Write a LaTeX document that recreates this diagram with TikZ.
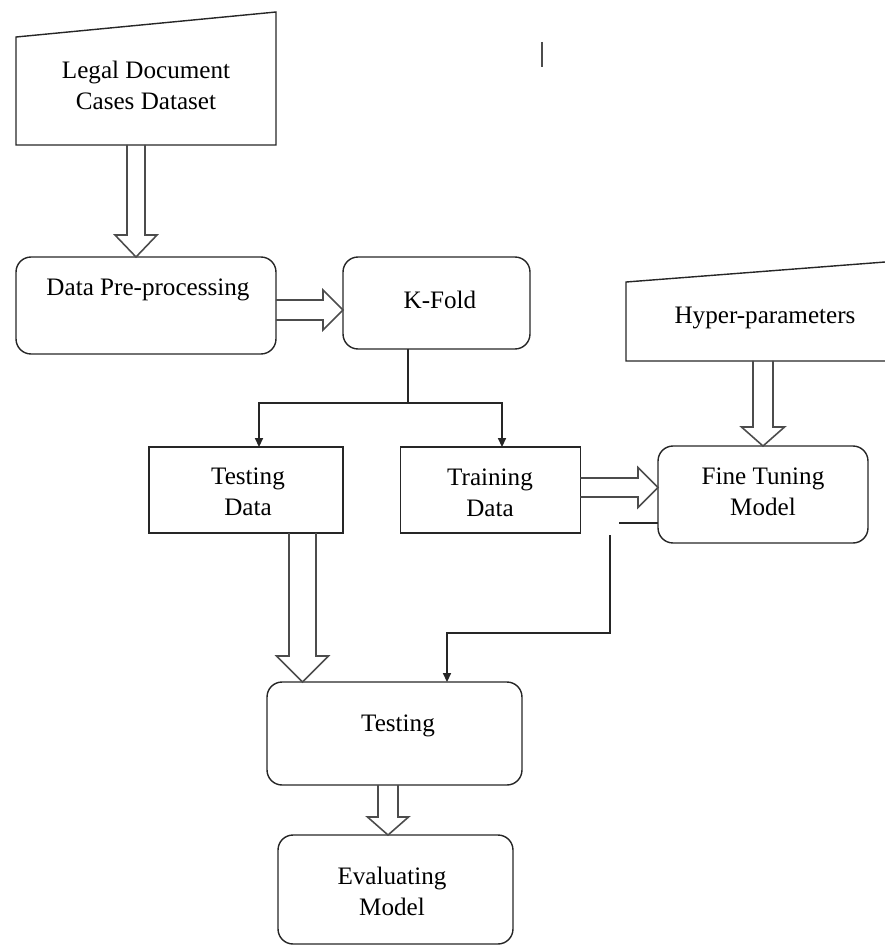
\documentclass[tikz,border=0pt]{standalone}
\usepackage{fontspec}
\setmainfont{Liberation Serif}
\usetikzlibrary{calc,arrows.meta}

% hollow block arrows: start, target anchor, half shaft, half head, head length
\newcommand{\fatdown}[5]{%
  \coordinate (fs) at #1;
  \coordinate (ft) at (fs |- #2);
  \draw[hollow] ($(fs)+(-#3,0)$) -- ($(ft)+(-#3,-#5)$) -- ($(ft)+(-#4,-#5)$) -- (ft)
    -- ($(ft)+(#4,-#5)$) -- ($(ft)+(#3,-#5)$) -- ($(fs)+(#3,0)$);}
\newcommand{\fatright}[5]{%
  \coordinate (fs) at #1;
  \coordinate (ft) at (fs -| #2);
  \draw[hollow] ($(fs)+(0,-#3)$) -- ($(ft)+(-#5,-#3)$) -- ($(ft)+(-#5,-#4)$) -- (ft)
    -- ($(ft)+(-#5,#4)$) -- ($(ft)+(-#5,#3)$) -- ($(fs)+(0,#3)$);}

\begin{document}
\begin{tikzpicture}[x=0.02cm, y=-0.02cm,
    every node/.style={inner sep=0pt, outer sep=0pt},
    box/.style={draw=black!85, line width=0.8pt},
    roundbox/.style={box, rounded corners=0.3cm},
    plain/.style={draw=none},
    txt/.style={align=center, font=\fontsize{14.3}{17.6}\selectfont},
    hollow/.style={draw=black!70, line width=0.9pt},
    tip/.style={draw=black!85, line width=0.8pt, -{Triangle[length=5pt,width=4.5pt]}}]
    \useasboundingbox (0,0) rectangle (885,946);

    % input shapes
    \node[plain, minimum width=5.2cm, minimum height=2.66cm] (legal) at (146,78.5) {};
    \draw[box] (legal.south west) -- (legal.south east) -- (legal.north east)
        -- ($(legal.north west)+(0,25)$) -- cycle;
    \node[txt] (legal-t) at (146,85) {Legal Document\\Cases Dataset};

    \node[plain, minimum width=5.18cm, minimum height=1.98cm] (hyper) at (755.5,311.5) {};
    \draw[box] (hyper.north east) -- ($(hyper.north west)+(0,20)$)
        -- (hyper.south west) -- (hyper.south east);
    \node[txt] (hyper-t) at (765,318) {Hyper-parameters};

    % process boxes
    \node[roundbox, minimum width=5.2cm, minimum height=1.94cm] (pre) at (146,305.5) {};
    \node[txt] (pre-t) at (148,290) {Data Pre-processing};

    \node[roundbox, minimum width=3.74cm, minimum height=1.84cm] (kfold) at (436.5,303) {};
    \node[txt] (kfold-t) at (440,300) {K-Fold};

    \node[box, minimum width=3.88cm, minimum height=1.72cm] (testdata) at (246,490) {};
    \node[txt] (testdata-t) at (248,492) {Testing\\Data};

    \node[box, minimum width=3.6cm, minimum height=1.72cm] (traindata) at (490.5,490) {};
    \node[txt] (traindata-t) at (490,493) {Training\\Data};

    \node[roundbox, minimum width=4.2cm, minimum height=1.94cm] (fine) at (763,494.5) {};
    \node[txt] (fine-t) at (763,492) {Fine Tuning\\Model};

    \node[roundbox, minimum width=5.1cm, minimum height=2.06cm] (testing) at (394.5,733.5) {};
    \node[txt] (testing-t) at (398,726) {Testing};

    \node[roundbox, minimum width=4.7cm, minimum height=2.18cm] (eval) at (395.5,889.5) {};
    \node[txt] (eval-t) at (392,891) {Evaluating\\Model};

    % hollow arrows
    \fatdown{($(legal.south)+(-10,0)$)}{pre.north}{9}{21}{22}
    \fatright{($(pre.east)+(0,4.5)$)}{kfold.west}{10}{20}{20}
    \fatdown{($(testdata.south)+(56.5,0)$)}{testing.north}{13.5}{26}{26}
    \fatright{($(traindata.east)+(0,-2.5)$)}{fine.west}{9.5}{20}{20}
    \fatdown{(fine.north |- hyper.south)}{fine.north}{10}{21.5}{19}
    \fatdown{($(testing.south)+(-6.5,0)$)}{eval.north}{10}{20.5}{18}

    % k-fold split
    \coordinate (split) at (408,403);
    \draw[box] (kfold.south -| split) -- (split);
    \draw[tip] (split) -| ($(testdata.north)+(13,0)$);
    \draw[tip] (split) -| ($(traindata.north)+(11.5,0)$);

    % feedback from fine tuning
    \coordinate (stub) at (619,523);
    \draw[box] (fine.west |- stub) -- (stub);
    \coordinate (gap) at (610,535);
    \coordinate (bend) at (447,633);
    \draw[tip] (gap) |- (bend) -- (bend |- testing.north);

    % stray mark
    \draw[line width=1pt, black!70] (542,42) -- (542,67);
\end{tikzpicture}
\end{document}
